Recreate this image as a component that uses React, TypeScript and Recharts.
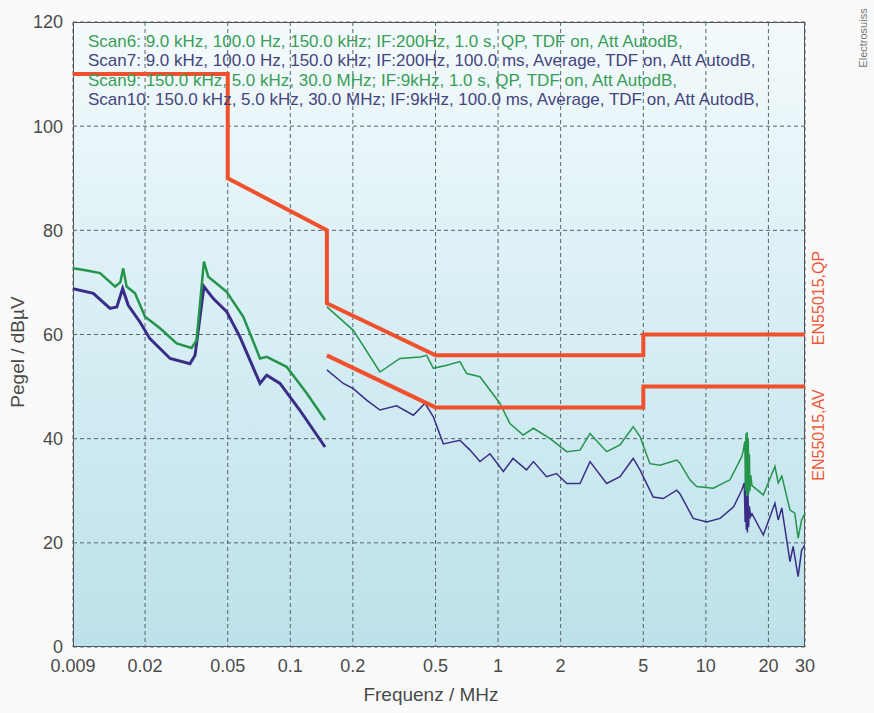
import React from 'react';
import { LineChart, Line, XAxis, YAxis, CartesianGrid } from 'recharts';

// frequency in MHz, level in dBµV
const scan6: [number, number][] = [
    [0.009, 72.7], [0.0105, 72.3], [0.01215, 71.8], [0.01435, 69.2], [0.0152, 70.0], [0.0157, 72.7],
    [0.0163, 69.2], [0.0179, 67.9], [0.02, 63.4], [0.0236, 61.2], [0.0284, 58.3], [0.0335, 57.4],
    [0.0354, 58.9], [0.0384, 74.0], [0.0403, 71.1], [0.0494, 68.2], [0.0594, 63.4], [0.0715, 55.4],
    [0.077, 55.7], [0.096, 53.8], [0.12, 48.7], [0.147, 43.6],
];

const scan7: [number, number][] = [
    [0.009, 68.8], [0.01127, 67.9], [0.01356, 65.0], [0.01463, 65.3], [0.0156, 68.8], [0.0166, 65.6],
    [0.0189, 62.4], [0.0211, 59.2], [0.0264, 55.4], [0.0329, 54.4], [0.0348, 56.0], [0.0384, 69.2],
    [0.0426, 66.9], [0.0494, 64.4], [0.0573, 59.5], [0.0715, 50.6], [0.077, 52.2], [0.0892, 50.6],
    [0.111, 45.5], [0.147, 38.4],
];

const scan9: [number, number][] = [
    [0.15, 65.3], [0.201, 60.8], [0.27, 52.8], [0.337, 55.4], [0.421, 55.7], [0.453, 56.0], [0.488, 53.5],
    [0.566, 54.1], [0.655, 54.8], [0.706, 52.5], [0.818, 51.9], [1.02, 46.8], [1.14, 42.9], [1.32, 40.7],
    [1.48, 42.0], [1.78, 40.0], [2.14, 37.5], [2.48, 37.8], [2.77, 41.0], [3.33, 37.5], [3.86, 38.8],
    [4.47, 42.3], [4.82, 40.4], [5.38, 35.2], [6.01, 34.9], [7.24, 35.9], [7.51, 35.3], [8.38, 32.1],
    [9.03, 30.8], [10.85, 30.5], [13.06, 32.1], [14.87, 36.5], [15.1, 37.5], [15.4, 39.5], [15.5, 30.0],
    [15.6, 41.0], [15.7, 29.0], [15.8, 41.3], [15.9, 29.0], [16.0, 40.0], [16.1, 29.5], [16.2, 37.0],
    [16.3, 30.0], [16.45, 33.0], [16.67, 31.0], [18.9, 29.2], [21.5, 34.7],
    [22.3, 31.5], [23.2, 32.8], [25.4, 26.3], [26.8, 25.7], [27.8, 20.9], [28.9, 24.4], [30, 25.7],
];

const scan10: [number, number][] = [
    [0.15, 53.2], [0.18, 50.6], [0.201, 49.6], [0.233, 47.4], [0.27, 45.5], [0.325, 46.3], [0.391, 44.5],
    [0.445, 46.8], [0.488, 44.2], [0.545, 39.0], [0.655, 39.7], [0.733, 37.8], [0.818, 35.6], [0.914, 37.1],
    [1.06, 33.7], [1.18, 36.2], [1.37, 34.0], [1.48, 35.6], [1.71, 32.7], [1.91, 33.3], [2.14, 31.4],
    [2.48, 31.4], [2.77, 35.6], [3.33, 31.4], [3.86, 32.7], [4.47, 36.2], [4.82, 34.0], [5.58, 28.8],
    [6.24, 28.5], [7.24, 30.1], [7.51, 29.4], [8.69, 24.7], [10.1, 24.0], [11.7, 24.7], [13.6, 26.9],
    [14.87, 30.1], [15.3, 31.5], [15.45, 24.0], [15.55, 33.0], [15.65, 22.5], [15.75, 32.0], [15.85, 22.0],
    [15.95, 30.0], [16.05, 23.0], [16.2, 27.0], [16.4, 25.0], [16.67, 25.6],
    [18.9, 21.5], [21.5, 27.6], [22.3, 24.4], [23.2, 26.7], [25.4, 16.4], [26.3, 19.3], [27.8, 13.5],
    [28.9, 18.6], [30, 19.6],
];

const qpLimit: [number, number][] = [
    [0.009, 110], [0.05, 110], [0.05, 90], [0.15, 80], [0.15, 66], [0.5, 56], [5, 56], [5, 60], [30, 60],
];

const avLimit: [number, number][] = [
    [0.15, 56], [0.5, 46], [5, 46], [5, 50], [30, 50],
];

const xTicks = [0.009, 0.02, 0.05, 0.1, 0.2, 0.5, 1, 2, 5, 10, 20, 30];
const yTicks = [0, 20, 40, 60, 80, 100, 120];

const scanLines = [
    { text: 'Scan6: 9.0 kHz, 100.0 Hz, 150.0 kHz; IF:200Hz, 1.0 s, QP, TDF on, Att AutodB,', color: '#3a9e58' },
    { text: 'Scan7: 9.0 kHz, 100.0 Hz, 150.0 kHz; IF:200Hz, 100.0 ms, Average, TDF on, Att AutodB,', color: '#45457e' },
    { text: 'Scan9: 150.0 kHz, 5.0 kHz, 30.0 MHz; IF:9kHz, 1.0 s, QP, TDF on, Att AutodB,', color: '#3a9e58' },
    { text: 'Scan10: 150.0 kHz, 5.0 kHz, 30.0 MHz; IF:9kHz, 100.0 ms, Average, TDF on, Att AutodB,', color: '#45457e' },
];

const toRows = (pts: [number, number][]) => pts.map(([f, v]) => ({ f, v }));

const GREEN = '#23944a';
const PURPLE = '#3a2d88';
const RED = '#f0502c';

const rotated = (cx: number, cy: number): React.CSSProperties => ({
    position: 'absolute',
    left: cx,
    top: cy,
    transform: 'translate(-50%, -50%) rotate(-90deg)',
    whiteSpace: 'nowrap',
});

const App: React.FC = () => {
    return (
        <div style={{ position: 'absolute', left: 0, top: 0, width: 874, height: 713, background: '#fafafa', fontFamily: '"Liberation Sans", Arial, sans-serif' }}>
            <div style={{
                position: 'absolute', left: 73, top: 22, width: 732, height: 625, boxSizing: 'border-box',
                border: '1.5px solid #505050',
                background: 'linear-gradient(to bottom, #f4fafc 0%, #d9eff5 45%, #bde1ea 100%)',
            }} />
            <div style={{ position: 'absolute', left: 0, top: 0 }}>
                <LineChart width={874} height={713} margin={{ top: 22, right: 69, bottom: 0, left: 0 }}>
                    <CartesianGrid stroke="#56646a" strokeDasharray="4 3" strokeWidth={1} />
                    <XAxis
                        dataKey="f"
                        type="number"
                        scale="log"
                        domain={[0.009, 30]}
                        ticks={xTicks}
                        tickFormatter={(v: number) => String(v)}
                        allowDataOverflow
                        axisLine={false}
                        tickLine={false}
                        tickSize={0}
                        tickMargin={12}
                        height={66}
                        interval={0}
                        tick={{ fill: '#4a4a4a', fontSize: 18 }}
                    />
                    <YAxis
                        type="number"
                        domain={[0, 120]}
                        ticks={yTicks}
                        axisLine={false}
                        tickLine={false}
                        tickSize={0}
                        tickMargin={10}
                        width={73}
                        interval={0}
                        tick={{ fill: '#4a4a4a', fontSize: 18 }}
                    />
                    <Line data={toRows(scan7)} dataKey="v" stroke={PURPLE} strokeWidth={3} dot={false} isAnimationActive={false} />
                    <Line data={toRows(scan6)} dataKey="v" stroke={GREEN} strokeWidth={2.5} dot={false} isAnimationActive={false} />
                    <Line data={toRows(scan10)} dataKey="v" stroke={PURPLE} strokeWidth={1.5} dot={false} isAnimationActive={false} />
                    <Line data={toRows(scan9)} dataKey="v" stroke={GREEN} strokeWidth={1.5} dot={false} isAnimationActive={false} />
                    <Line data={toRows(qpLimit)} dataKey="v" stroke={RED} strokeWidth={4} dot={false} isAnimationActive={false} />
                    <Line data={toRows(avLimit)} dataKey="v" stroke={RED} strokeWidth={4} dot={false} isAnimationActive={false} />
                </LineChart>
            </div>
            <div style={{ position: 'absolute', left: 88, top: 32, fontSize: 17, lineHeight: '19.3px', whiteSpace: 'nowrap' }}>
                {scanLines.map((s) => (
                    <div key={s.text} style={{ color: s.color }}>{s.text}</div>
                ))}
            </div>
            <div style={{ ...rotated(819, 298), color: '#ec5a3a', fontSize: 16 }}>EN55015,QP</div>
            <div style={{ ...rotated(819, 435), color: '#ec5a3a', fontSize: 16 }}>EN55015,AV</div>
            <div style={{ ...rotated(18, 352), color: '#4a4a4a', fontSize: 19 }}>Pegel / dBµV</div>
            <div style={{ position: 'absolute', left: 431, top: 695, transform: 'translate(-50%, -50%)', color: '#4a4a4a', fontSize: 19, whiteSpace: 'nowrap' }}>
                Frequenz / MHz
            </div>
            <div style={{ ...rotated(863, 38), color: '#777', fontSize: 11 }}>Electrosuiss</div>
        </div>
    );
};

export default App;
